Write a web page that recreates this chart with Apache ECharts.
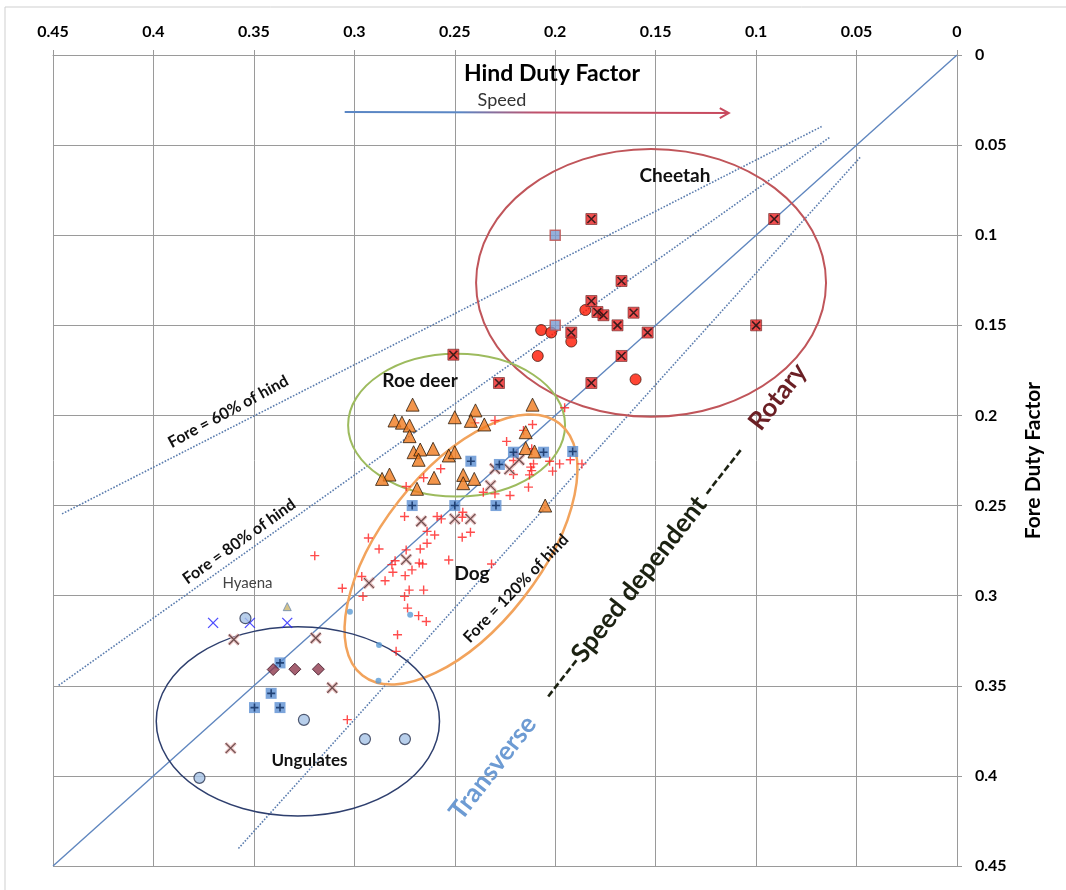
<!DOCTYPE html>
<html><head><meta charset="utf-8">
<script src="https://cdn.jsdelivr.net/npm/echarts@6/dist/echarts.min.js"></script>
<style>html,body{margin:0;padding:0;background:#fff}#c{width:1066px;height:890px}</style>
</head><body><div id="c"></div>
<script>
// ---- axis ----
const axisMin = 0, axisMax = 0.45, axisStep = 0.05;

// ---- reference lines (hind, fore) ----
const equalLine   = [[0, 0], [0.45, 0.45]];
const fore60Line  = [[0.4455, 0.2546], [0.0674, 0.0397]];
const fore80Line  = [[0.4472, 0.3498], [0.0629, 0.0453]];
const fore120Line = [[0.3577, 0.4403], [0.0479, 0.0564]];

// ---- data points [hind, fore] ----
const cheetahCrossSquares = [[0.182,0.091],[0.091,0.091],[0.167,0.1254],[0.182,0.1365],[0.179,0.1426],[0.176,0.1444],[0.161,0.143],[0.169,0.15],[0.154,0.154],[0.100,0.15],[0.192,0.154],[0.167,0.167],[0.182,0.182],[0.228,0.182],[0.2507,0.1663]];
const cheetahBlueSquares = [[0.2,0.1],[0.2,0.15]];
const cheetahCircles = [[0.185,0.1415],[0.207,0.1526],[0.202,0.154],[0.192,0.159],[0.2087,0.167],[0.16,0.18]];
const roeDeerTriangles = [[0.271,0.194],[0.28,0.2028],[0.2763,0.204],[0.2725,0.2056],[0.2725,0.2115],[0.25,0.201],[0.2397,0.1972],[0.242,0.203],[0.2353,0.205],[0.2113,0.194],[0.2147,0.2093],[0.2705,0.2204],[0.2672,0.2189],[0.2608,0.2185],[0.268,0.2246],[0.253,0.2222],[0.25,0.2204],[0.2147,0.2181],[0.2103,0.22],[0.2825,0.2328],[0.2862,0.2352],[0.2603,0.2346],[0.2458,0.233],[0.2458,0.2376],[0.2403,0.2352],[0.2688,0.2407],[0.205,0.25]];
const dogPlus = [[0.1953,0.1957],[0.23,0.2028],[0.24,0.2041],[0.2113,0.205],[0.2158,0.2083],[0.2242,0.2144],[0.2117,0.2185],[0.2192,0.2213],[0.2208,0.225],[0.2108,0.2269],[0.2028,0.2254],[0.1978,0.2269],[0.1925,0.2246],[0.1867,0.2269],[0.2122,0.2287],[0.2117,0.2306],[0.2208,0.2328],[0.2128,0.233],[0.2013,0.2309],[0.2133,0.2398],[0.2225,0.2444],[0.23,0.2435],[0.2358,0.2426],[0.257,0.2296],[0.2655,0.2346],[0.2742,0.2394],
  [0.275,0.2561],[0.2588,0.2561],[0.2567,0.2574],[0.246,0.2537],[0.2463,0.2565],[0.2422,0.2648],[0.2638,0.2643],[0.26,0.2663],[0.2463,0.2676],[0.2638,0.2709],[0.293,0.268],[0.2672,0.2741],[0.2877,0.2741],[0.2742,0.2746],[0.3197,0.2778],[0.2797,0.2806],[0.2813,0.2828],[0.2677,0.2819],[0.266,0.2824],[0.253,0.2802],[0.2317,0.2824],[0.2808,0.287],[0.2713,0.2857],[0.2747,0.2889],[0.2963,0.2894],[0.2847,0.2917],[0.306,0.2959],[0.2957,0.3004],[0.2727,0.2969],[0.2655,0.2969],[0.275,0.3004],[0.2735,0.3069],[0.268,0.3111],[0.2642,0.3143],[0.2785,0.3217],[0.2792,0.3309],[0.3035,0.3688]];
const plusSquares = [[0.2208,0.2204],[0.2058,0.2204],[0.1913,0.22],[0.242,0.2254],[0.2278,0.2272],[0.2712,0.25],[0.25,0.25],[0.2295,0.25],[0.337,0.3373],[0.3414,0.3542],[0.3497,0.3621],[0.337,0.3621]];
const brownCrosses = [[0.218,0.2246],[0.2228,0.2298],[0.23,0.2296],[0.2322,0.2389],[0.2667,0.2587],[0.25,0.2574],[0.2422,0.2574],[0.2742,0.28],[0.2927,0.293],[0.3192,0.3235],[0.311,0.3511],[0.36,0.3243],[0.3616,0.3846]];
const blueCrosses = [[0.3703,0.3151],[0.352,0.3151],[0.3334,0.3151]];
const ungulateCircles = [[0.3542,0.3125],[0.3251,0.3689],[0.2947,0.3796],[0.2748,0.3796],[0.3771,0.4011]];
const ungulateDiamonds = [[0.3404,0.341],[0.3296,0.3408],[0.3179,0.3408]];
const smallDots = [[0.3022,0.3089],[0.2722,0.3106],[0.2877,0.3274],[0.288,0.3472]];
const hyaenaTriangle = [[0.3334,0.3061]];

// ---- group outlines (centre hind, centre fore, radius hind-units, radius fore-units, tilt deg) ----
const groupEllipses = [
  {cx:0.1523, cy:0.1264, rx:0.0871, ry:0.0743, tilt:0,  color:'#c0555a', w:2},
  {cx:0.2491, cy:0.2054, rx:0.054,  ry:0.0396, tilt:0,  color:'#9dbb5e', w:2},
  {cx:0.2469, cy:0.2744, rx:0.0796, ry:0.0438, tilt:52, color:'#f2a35c', w:2.5},
  {cx:0.3281, cy:0.3697, rx:0.0705, ry:0.0525, tilt:0,  color:'#2e3f6e', w:1.5}
];

// ---- annotations ----
const annotations = [
  {text:'Hind Duty Factor', x:0.2016, y:0.0105, rot:0, font:'bold 23px Lato', color:'#000'},
  {text:'Speed', x:0.2265, y:0.0249, rot:0, font:'18px Lato', color:'#333'},
  {text:'Cheetah', x:0.1404, y:0.0671, rot:0, font:'bold 19px Lato', color:'#111'},
  {text:'Roe deer', x:0.2673, y:0.1807, rot:0, font:'bold 19px Lato', color:'#111'},
  {text:'Dog', x:0.2414, y:0.2877, rot:0, font:'bold 19px Lato', color:'#111'},
  {text:'Ungulates', x:0.3223, y:0.3917, rot:0, font:'bold 17px Lato', color:'#111'},
  {text:'Hyaena', x:0.3532, y:0.2929, rot:0, font:'15px Lato', color:'#444'},
  {text:'Fore = 60% of hind', x:0.3628, y:0.1979, rot:28.5, font:'bold 16px Lato', color:'#111'},
  {text:'Fore = 80% of hind', x:0.3573, y:0.2700, rot:35.5, font:'bold 16px Lato', color:'#111'},
  {text:'Fore = 120% of hind', x:0.2195, y:0.2960, rot:46, font:'bold 16px Lato', color:'#111'},
  {text:'Transverse', x:0.2310, y:0.3955, rot:52, font:'bold 26px Lato', color:'#6d9bd3'},
  {text:'-----Speed dependent ------', x:0.1558, y:0.2874, rot:52, font:'bold 26px Lato', color:'#1c2212'},
  {text:'Rotary', x:0.0892, y:0.1896, rot:52, font:'bold 26px Lato', color:'#6a1f24'}
];
const speedArrow = [[0.3048,0.0316],[0.1136,0.0322]];

const X_SYM = 'path://M0,0L10,10M10,0L0,10';
const PLUS_SYM = 'path://M5,0L5,10M0,5L10,5';

function lineSeries(data, type, color, width) {
  return {type:'line', data, showSymbol:false, symbol:'none', silent:true, z:2,
    lineStyle:{color, width, type}};
}
function scat(data, symbol, size, itemStyle, z) {
  return {type:'scatter', data, symbol, symbolSize:size, itemStyle, z:z||5, silent:true};
}

const grey = '#9a9a9a';
const option = {
  animation:false,
  backgroundColor:'#fff',
  grid:{left:53, right:109, top:55, bottom:24},
  xAxis:{type:'value', position:'top', inverse:true, min:axisMin, max:axisMax, interval:axisStep,
    axisLine:{show:true, lineStyle:{color:grey}},
    axisTick:{show:true, length:5, lineStyle:{color:grey}},
    axisLabel:{margin:15, color:'#000', fontWeight:'bold', fontSize:16, fontFamily:'Lato'},
    splitLine:{show:true, lineStyle:{color:grey, width:1}}},
  yAxis:{type:'value', position:'right', inverse:true, min:axisMin, max:axisMax, interval:axisStep,
    name:'Fore Duty Factor', nameLocation:'middle', nameGap:66, nameRotate:90,
    nameTextStyle:{fontWeight:'bold', fontSize:21, fontFamily:'Lato', color:'#000'},
    axisLine:{show:true, lineStyle:{color:grey}},
    axisTick:{show:true, length:5, lineStyle:{color:grey}},
    axisLabel:{margin:18, color:'#000', fontWeight:'bold', fontSize:16, fontFamily:'Lato'},
    splitLine:{show:true, lineStyle:{color:grey, width:1}}},
  series:[
    lineSeries(equalLine, 'solid', '#5f86bf', 1.4),
    lineSeries(fore60Line, 'dotted', '#5a7cae', 1.6),
    lineSeries(fore80Line, 'dotted', '#5a7cae', 1.6),
    lineSeries(fore120Line, 'dotted', '#5a7cae', 1.6),
    {type:'custom', silent:true, z:3, data:groupEllipses.map(e=>[e.cx,e.cy]),
      renderItem:function(params, api){
        const e = groupEllipses[params.dataIndex];
        const c = api.coord([e.cx, e.cy]);
        const sx = Math.abs(api.size([e.rx, 0])[0]);
        const sy = Math.abs(api.size([0, e.ry])[1]);
        return {type:'ellipse', x:c[0], y:c[1], rotation:e.tilt*Math.PI/180,
          shape:{cx:0, cy:0, rx:sx, ry:sy},
          style:{fill:'none', stroke:e.color, lineWidth:e.w}};
      }},
    scat(dogPlus, PLUS_SYM, 9, {color:'transparent', borderColor:'#ff1f1f', borderWidth:1.4}, 5),
    scat(smallDots, 'circle', 6, {color:'#5b9bd5'}, 5),
    scat(brownCrosses, X_SYM, 10, {color:'transparent', borderColor:'#e3b0b0', borderWidth:3.5}, 6),
    scat(brownCrosses, X_SYM, 10, {color:'transparent', borderColor:'#4a2f2f', borderWidth:1.2}, 6),
    scat(plusSquares, 'rect', 11, {color:'#5b8fd2'}, 6),
    scat(plusSquares, PLUS_SYM, 8, {color:'transparent', borderColor:'#0d2b5c', borderWidth:1.6}, 7),
    scat(roeDeerTriangles, 'triangle', 13, {color:'#f07b1e', borderColor:'#2a1a0a', borderWidth:1}, 6),
    scat(cheetahCircles, 'circle', 11, {color:'#ff1600', borderColor:'#4a1a10', borderWidth:1}, 6),
    scat(cheetahCrossSquares, 'rect', 11, {color:'#ee2222', borderColor:'#6a2a2a', borderWidth:0.8}, 6),
    scat(cheetahCrossSquares, X_SYM, 8, {color:'transparent', borderColor:'#111', borderWidth:1.6}, 7),
    scat(cheetahBlueSquares, 'rect', 10, {color:'#7b9bcf', borderColor:'#c0504d', borderWidth:1.5}, 6),
    scat(blueCrosses, X_SYM, 10, {color:'transparent', borderColor:'#1f1fff', borderWidth:1.3}, 6),
    scat(ungulateCircles, 'circle', 11, {color:'#a6c3e6', borderColor:'#2a3550', borderWidth:1.2}, 6),
    scat(ungulateDiamonds, 'diamond', 12, {color:'#8e3a4e', borderColor:'#3a1020', borderWidth:1}, 6),
    scat(hyaenaTriangle, 'triangle', 8, {color:'#c9b36a', borderColor:'#6a8ab0', borderWidth:1}, 6)
  ]
};

const chart = echarts.init(document.getElementById('c'));
chart.setOption(option);

const toPx = p => chart.convertToPixel({gridIndex:0}, p);
const graphics = [
  {type:'rect', shape:{x:5, y:7, width:1100, height:900}, style:{fill:'none', stroke:'#cfcfcf', lineWidth:1}, silent:true, z:0}
];
annotations.forEach(a => {
  const p = toPx([a.x, a.y]);
  graphics.push({type:'text', x:p[0], y:p[1], rotation:a.rot*Math.PI/180, z:50, silent:true,
    style:{text:a.text, font:a.font, fill:a.color, align:'center', verticalAlign:'middle', textAlign:'center', textVerticalAlign:'middle'}});
});
const a0 = toPx(speedArrow[0]), a1 = toPx(speedArrow[1]);
graphics.push({type:'line', z:50, silent:true, shape:{x1:a0[0], y1:a0[1], x2:a1[0], y2:a1[1]},
  style:{lineWidth:2, stroke:{type:'linear', x:a0[0], y:0, x2:a1[0], y2:0, global:true,
    colorStops:[{offset:0, color:'#5a86c4'},{offset:0.3, color:'#5a86c4'},{offset:0.5, color:'#c0506a'},{offset:1, color:'#c84a5e'}]}}});
graphics.push({type:'polyline', z:50, silent:true,
  shape:{points:[[a1[0]-9, a1[1]-5],[a1[0], a1[1]],[a1[0]-9, a1[1]+5]]},
  style:{fill:'none', stroke:'#c84a5e', lineWidth:2}});
chart.setOption({graphic:graphics});
</script>
</body></html>
